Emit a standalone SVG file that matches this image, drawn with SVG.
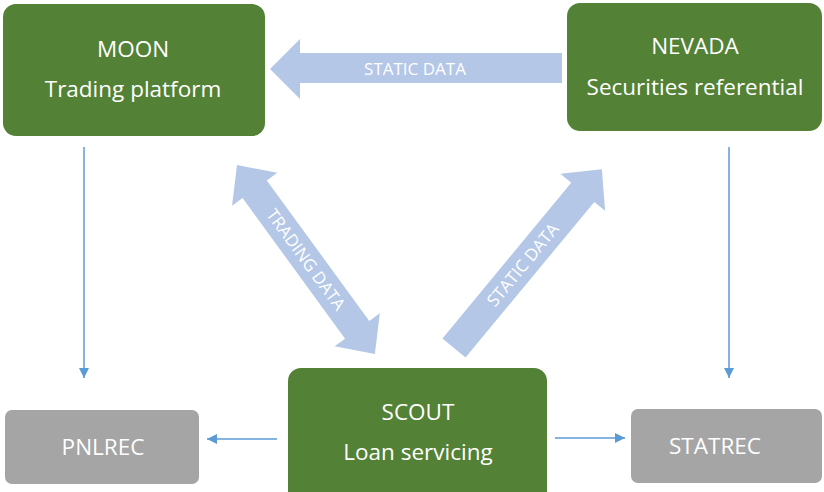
<svg xmlns="http://www.w3.org/2000/svg" width="824" height="492" viewBox="0 0 824 492">
<defs>
<style>
.g{fill:#538135}
.gr{fill:#A5A5A5}
.t{fill:#fff;font-family:"Open Sans","Liberation Sans",sans-serif;font-size:22.5px;text-anchor:middle}
.fa{fill:#B4C7E7}
.ft{fill:#fff;font-family:"Open Sans","Liberation Sans",sans-serif;font-size:17px;text-anchor:middle}
.ln{stroke:#5B9BD5;stroke-width:1.5;fill:none}
</style>
<marker id="ah" viewBox="0 0 10 10" refX="10" refY="5" markerWidth="10" markerHeight="10" markerUnits="userSpaceOnUse" orient="auto"><path d="M0,0 L10,5 L0,10 Z" fill="#5B9BD5"/></marker>
</defs>
<g id="connectors">
<line class="ln" x1="84" y1="147" x2="84" y2="378" marker-end="url(#ah)"/>
<line class="ln" x1="729" y1="147" x2="729" y2="378" marker-end="url(#ah)"/>
<line class="ln" x1="277" y1="439" x2="207" y2="439" marker-end="url(#ah)"/>
<line class="ln" x1="555" y1="438" x2="625" y2="438" marker-end="url(#ah)"/>
<g id="arrow-static-h">
<path class="fa" d="M562,53 L300,53 L300,39 L270,69 L300,99 L300,83 L562,83 Z"/>
<text class="ft" x="415" y="75">STATIC DATA</text>
</g>
<g id="arrow-trading" transform="translate(237,165) rotate(53.9)">
<path class="fa" d="M0,0 L30,-28 L30,-15 L204,-15 L204,-28 L234,0 L204,28 L204,15 L30,15 L30,28 Z"/>
<text class="ft" x="117" y="6">TRADING DATA</text>
</g>
<g id="arrow-static-d" transform="translate(454,348) rotate(-50.4)">
<path class="fa" d="M0,-15 L202,-15 L202,-29 L232,0 L202,29 L202,15 L0,15 Z"/>
<text class="ft" x="108" y="6">STATIC DATA</text>
</g>
</g>
<g id="moon">
<rect class="g" x="3" y="4" width="262" height="132" rx="13"/>
<text class="t" x="133" y="57">MOON</text>
<text class="t" x="133" y="97">Trading platform</text>
</g>
<g id="nevada">
<rect class="g" x="567" y="3" width="255" height="128" rx="13"/>
<text class="t" x="695" y="54">NEVADA</text>
<text class="t" x="695" y="95">Securities referential</text>
</g>
<g id="scout">
<rect class="g" x="288" y="368" width="259" height="140" rx="13"/>
<text class="t" x="418" y="420">SCOUT</text>
<text class="t" x="418" y="460">Loan servicing</text>
</g>
<g id="pnlrec">
<rect class="gr" x="5" y="410" width="194" height="74" rx="7"/>
<text class="t" x="103" y="455">PNLREC</text>
</g>
<g id="statrec">
<rect class="gr" x="631" y="409" width="191" height="74" rx="7"/>
<text class="t" x="715" y="454">STATREC</text>
</g>
</svg>
